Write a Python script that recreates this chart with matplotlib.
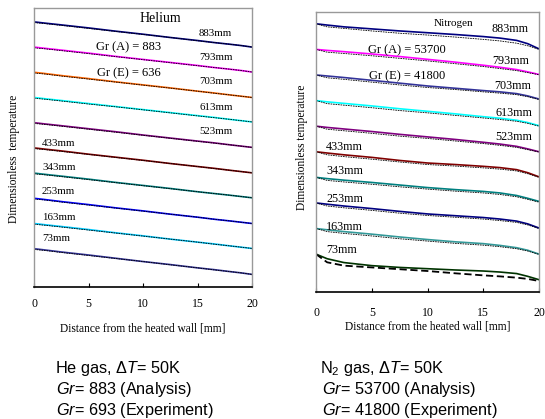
import matplotlib
matplotlib.use("Agg")
import matplotlib.pyplot as plt

plt.rcParams['font.family'] = ['Liberation Serif', 'DejaVu Serif']
plt.rcParams['mathtext.fontset'] = 'custom'
plt.rcParams['mathtext.rm'] = 'Liberation Sans'
plt.rcParams['mathtext.it'] = 'Liberation Sans:italic'

# distance from the heated wall [mm]
x_mm = [0, 1, 2.5, 5, 7.5, 10, 12.5, 15, 16.5, 18, 19, 20]

heights = ["883mm", "793mm", "703mm", "613mm", "523mm",
           "433mm", "343mm", "253mm", "163mm", "73mm"]

# Helium, dimensionless temperature (each curve stacked by +1)
he_analysis = [
    [1.00, 0.95, 0.88, 0.76, 0.63, 0.51, 0.38, 0.26, 0.18, 0.11, 0.06, 0.00],
    [1.00, 0.95, 0.88, 0.76, 0.63, 0.51, 0.39, 0.27, 0.19, 0.12, 0.07, 0.01],
    [1.00, 0.95, 0.87, 0.75, 0.62, 0.50, 0.38, 0.25, 0.18, 0.10, 0.05, 0.00],
    [1.00, 0.95, 0.88, 0.76, 0.64, 0.52, 0.40, 0.28, 0.21, 0.13, 0.08, 0.03],
    [1.00, 0.95, 0.88, 0.76, 0.64, 0.51, 0.39, 0.27, 0.20, 0.12, 0.07, 0.02],
    [1.00, 0.95, 0.88, 0.75, 0.63, 0.51, 0.38, 0.26, 0.19, 0.11, 0.06, 0.01],
    [1.00, 0.95, 0.88, 0.76, 0.63, 0.51, 0.39, 0.26, 0.19, 0.12, 0.07, 0.02],
    [1.00, 0.95, 0.87, 0.75, 0.62, 0.50, 0.37, 0.25, 0.17, 0.10, 0.05, 0.00],
    [1.00, 0.95, 0.88, 0.76, 0.63, 0.51, 0.38, 0.26, 0.19, 0.11, 0.06, 0.01],
    [1.00, 0.95, 0.87, 0.75, 0.62, 0.49, 0.37, 0.24, 0.17, 0.09, 0.04, -0.02],
]
he_experiment = [
    [0.97, 0.93, 0.86, 0.74, 0.62, 0.50, 0.38, 0.25, 0.18, 0.11, 0.06, 0.00],
    [0.97, 0.93, 0.86, 0.74, 0.62, 0.50, 0.38, 0.26, 0.19, 0.12, 0.07, 0.01],
    [0.97, 0.93, 0.85, 0.73, 0.61, 0.49, 0.37, 0.25, 0.17, 0.10, 0.05, 0.00],
    [0.97, 0.93, 0.86, 0.74, 0.63, 0.51, 0.39, 0.27, 0.20, 0.13, 0.08, 0.03],
    [0.97, 0.93, 0.86, 0.74, 0.62, 0.50, 0.38, 0.26, 0.19, 0.12, 0.07, 0.02],
    [0.97, 0.93, 0.86, 0.74, 0.62, 0.50, 0.38, 0.26, 0.18, 0.11, 0.06, 0.01],
    [0.97, 0.93, 0.86, 0.74, 0.62, 0.50, 0.38, 0.26, 0.19, 0.12, 0.07, 0.02],
    [0.97, 0.93, 0.85, 0.73, 0.61, 0.49, 0.37, 0.25, 0.17, 0.10, 0.05, 0.00],
    [0.97, 0.93, 0.86, 0.74, 0.62, 0.50, 0.38, 0.26, 0.18, 0.11, 0.06, 0.01],
    [0.97, 0.93, 0.85, 0.73, 0.61, 0.49, 0.36, 0.24, 0.16, 0.09, 0.04, -0.02],
]

# Nitrogen
n2_analysis = [
    [1.00, 0.95, 0.88, 0.80, 0.72, 0.65, 0.58, 0.50, 0.44, 0.35, 0.22, 0.02],
    [1.00, 0.96, 0.91, 0.82, 0.72, 0.61, 0.50, 0.38, 0.30, 0.21, 0.12, 0.02],
    [1.00, 0.96, 0.90, 0.79, 0.68, 0.57, 0.48, 0.39, 0.34, 0.27, 0.18, 0.06],
    [1.00, 0.95, 0.89, 0.79, 0.68, 0.58, 0.48, 0.37, 0.31, 0.23, 0.14, 0.02],
    [1.00, 0.95, 0.89, 0.79, 0.68, 0.58, 0.48, 0.37, 0.30, 0.21, 0.11, 0.00],
    [1.00, 0.95, 0.88, 0.78, 0.66, 0.56, 0.50, 0.43, 0.38, 0.30, 0.18, 0.02],
    [1.00, 0.95, 0.89, 0.80, 0.70, 0.60, 0.52, 0.45, 0.39, 0.29, 0.18, 0.06],
    [1.00, 0.95, 0.88, 0.78, 0.67, 0.57, 0.50, 0.43, 0.37, 0.29, 0.18, 0.02],
    [1.00, 0.95, 0.88, 0.78, 0.67, 0.57, 0.48, 0.41, 0.34, 0.25, 0.15, 0.00],
    [1.00, 0.82, 0.67, 0.55, 0.48, 0.43, 0.38, 0.34, 0.30, 0.24, 0.13, 0.00],
]
n2_experiment = [
    [1.00, 0.88, 0.82, 0.72, 0.63, 0.56, 0.48, 0.39, 0.33, 0.24, 0.14, 0.00],
    [1.00, 0.89, 0.84, 0.75, 0.65, 0.55, 0.44, 0.33, 0.25, 0.17, 0.09, 0.01],
    [1.00, 0.89, 0.83, 0.72, 0.61, 0.51, 0.43, 0.34, 0.29, 0.23, 0.15, 0.04],
    [1.00, 0.88, 0.82, 0.72, 0.61, 0.52, 0.42, 0.32, 0.26, 0.19, 0.11, 0.00],
    [1.00, 0.88, 0.82, 0.72, 0.61, 0.52, 0.42, 0.32, 0.25, 0.17, 0.08, -0.01],
    [1.00, 0.88, 0.81, 0.71, 0.60, 0.50, 0.44, 0.37, 0.32, 0.25, 0.14, 0.00],
    [1.00, 0.88, 0.82, 0.73, 0.63, 0.54, 0.46, 0.39, 0.33, 0.24, 0.14, 0.03],
    [1.00, 0.88, 0.81, 0.71, 0.60, 0.51, 0.44, 0.37, 0.31, 0.24, 0.14, 0.00],
    [1.00, 0.88, 0.81, 0.71, 0.60, 0.51, 0.42, 0.35, 0.29, 0.21, 0.12, -0.01],
    [1.00, 0.68, 0.55, 0.48, 0.41, 0.34, 0.25, 0.17, 0.13, 0.08, 0.03, -0.05],
]

he_colors = ['#000080', '#FF00FF', '#FF6600', '#00FFFF', '#800080',
             '#800000', '#008080', '#0000FF', '#00CCFF', '#333399']
n2_colors = ['#000080', '#FF00FF', '#333399', '#00FFFF', '#800080',
             '#800000', '#008080', '#000080', '#339999', '#003300']

W, H = 545, 419
fig = plt.figure(figsize=(W / 100, H / 100), dpi=100)


def px(x, y):
    return x / W, 1 - y / H


def make_axes(left, top, right, bottom):
    ax = fig.add_axes([left / W, 1 - bottom / H, (right - left) / W, (bottom - top) / H])
    for s in ['left', 'top', 'right']:
        ax.spines[s].set_color('#999999')
        ax.spines[s].set_linewidth(1.0)
    ax.spines['bottom'].set_color('black')
    ax.spines['bottom'].set_linewidth(1.2)
    ax.set_xlim(0, 20)
    ax.set_xticks([0, 5, 10, 15, 20])
    ax.set_yticks([])
    ax.tick_params(axis='x', direction='in', length=3, width=0.8, labelsize=8.5)
    return ax


def draw(ax, analysis, experiment, colors, last_thick=False):
    n = len(analysis)
    for i in range(n):
        k = n - 1 - i
        ax.plot(x_mm, [v + k for v in analysis[i]], color=colors[i], lw=1.2)
    for i in range(n):
        k = n - 1 - i
        if last_thick and i == n - 1:
            ax.plot(x_mm, [v + k for v in experiment[i]], color='black',
                    lw=1.3, dashes=(4, 2))
        else:
            ax.plot(x_mm, [v + k for v in experiment[i]], color='black',
                    lw=0.6, dashes=(2, 1))


# Helium panel
ax1 = make_axes(34, 8, 252, 287)
draw(ax1, he_analysis, he_experiment, he_colors)
ax1.set_ylim(-0.52, 10.55)
ax1.tick_params(axis='x', pad=8)
ax1.set_xlabel("Distance from the heated wall [mm]", fontsize=8.3, labelpad=9)
fig.text(*px(14, 159), "Dimensionless  temperature", rotation=90,
         ha='center', va='center', fontsize=8.3)

fig.text(*px(160, 18), "Helium", ha='center', va='center', fontsize=10)
fig.text(*px(129, 47), "Gr (A) = 883", ha='center', va='center', fontsize=9)
fig.text(*px(129, 73), "Gr (E) = 636", ha='center', va='center', fontsize=9)
he_label_y = [33, 57, 81, 108, 132, 143, 167, 192, 217, 238]
for i, lab in enumerate(heights):
    if i < 5:
        fig.text(*px(199, he_label_y[i]), lab, ha='left', va='center', fontsize=7.8)
    else:
        fig.text(*px(42, he_label_y[i]), lab, ha='left', va='center', fontsize=7.8)

# Nitrogen panel
ax2 = make_axes(316, 12, 539, 292)
draw(ax2, n2_analysis, n2_experiment, n2_colors, last_thick=True)
ax2.set_ylim(-0.48, 10.46)
ax2.tick_params(axis='x', pad=11)
ax2.set_xlabel("Distance from the heated wall [mm]", fontsize=8.3, labelpad=1)
fig.text(*px(302, 147), "Dimensionless temperature", rotation=90,
         ha='center', va='center', fontsize=8.3)

fig.text(*px(453, 23), "Nitrogen", ha='center', va='center', fontsize=8)
fig.text(*px(407, 50), "Gr (A) = 53700", ha='center', va='center', fontsize=9)
fig.text(*px(407, 76), "Gr (E) = 41800", ha='center', va='center', fontsize=9)
n2_label_y = [29, 61, 86, 113, 137, 147, 171, 199, 227, 250]
n2_label_x = [492, 492, 494, 495, 495, 326, 326, 326, 326, 326]
for i, lab in enumerate(heights):
    fig.text(*px(n2_label_x[i], n2_label_y[i]), lab, ha='left', va='center', fontsize=8.7)

# captions below
sans = ['Liberation Sans', 'DejaVu Sans']
cap = dict(family=sans, ha='left', va='center', fontsize=11.7)
fig.text(*px(55, 368), r"He gas, $\Delta\mathit{T}$= 50K", **cap)
fig.text(*px(56, 389), r"$\mathit{Gr}$= 883 (Analysis)", **cap)
fig.text(*px(56, 410), r"$\mathit{Gr}$= 693 (Experiment)", **cap)
fig.text(*px(320, 368), r"N$_2$ gas, $\Delta\mathit{T}$= 50K", **cap)
fig.text(*px(322, 389), r"$\mathit{Gr}$= 53700 (Analysis)", **cap)
fig.text(*px(322, 410), r"$\mathit{Gr}$= 41800 (Experiment)", **cap)

fig.savefig("out.png", dpi=100)
